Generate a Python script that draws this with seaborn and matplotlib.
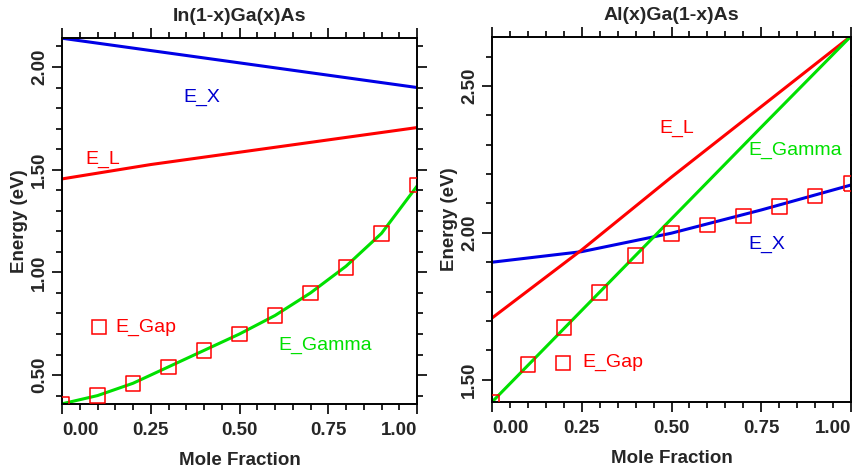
import numpy as np
import pandas as pd
import matplotlib
matplotlib.use("Agg")
import matplotlib.pyplot as plt
import seaborn as sns
from matplotlib.ticker import MultipleLocator

# ---------------- data ----------------
# In(1-x)Ga(x)As
ingaas_x_curve = [0.0, 0.1, 0.2, 0.3, 0.4, 0.5, 0.6, 0.7, 0.8, 0.9, 1.0]
ingaas_gamma = [0.36, 0.40, 0.46, 0.54, 0.62, 0.70, 0.79, 0.90, 1.03, 1.19, 1.42]
ingaas_x_band = [0.0, 0.25, 0.5, 0.75, 1.0]
ingaas_ex = [2.14, 2.08, 2.02, 1.96, 1.90]
ingaas_el = [1.455, 1.525, 1.585, 1.645, 1.705]
ingaas_x_gap = [0.0, 0.1, 0.2, 0.3, 0.4, 0.5, 0.6, 0.7, 0.8, 0.9, 1.0]
ingaas_gap = [0.36, 0.40, 0.46, 0.54, 0.62, 0.70, 0.79, 0.90, 1.025, 1.19, 1.425]

# Al(x)Ga(1-x)As
algaas_x_band = [0.0, 0.25, 0.5, 0.75, 1.0]
algaas_gamma = [1.424, 1.736, 2.048, 2.360, 2.67]
algaas_el = [1.71, 1.942, 2.19, 2.43, 2.67]
algaas_ex = [1.90, 1.936, 1.999, 2.078, 2.163]
algaas_x_gap = [0.0, 0.1, 0.2, 0.3, 0.4, 0.5, 0.6, 0.7, 0.8, 0.9, 1.0]
algaas_gap = [1.424, 1.551, 1.677, 1.796, 1.922, 1.997, 2.027, 2.058, 2.089, 2.126, 2.168]

x_ticks = [0.0, 0.25, 0.5, 0.75, 1.0]
x_tick_labels = ["0.00", "0.25", "0.50", "0.75", "1.00"]
left_y_ticks = [0.5, 1.0, 1.5, 2.0]
left_y_labels = ["0.50", "1.00", "1.50", "2.00"]
right_y_ticks = [1.5, 2.0, 2.5]
right_y_labels = ["1.50", "2.00", "2.50"]

RED = "#ff0000"
GREEN = "#00e000"
BLUE = "#0000e6"

sns.set_style("ticks")
plt.rcParams["font.family"] = ["Liberation Sans", "DejaVu Sans"]

fig = plt.figure(figsize=(8.53, 4.70), dpi=100)
axL = fig.add_axes([0.0727, 0.1404, 0.4162, 0.7787])
axR = fig.add_axes([0.5768, 0.1447, 0.4209, 0.7766])

LW = 2.2

def draw_line(ax, xs, ys, color):
    df = pd.DataFrame({"x": xs, "y": ys})
    sns.lineplot(data=df, x="x", y="y", ax=ax, color=color, lw=LW, sort=False)

def draw_squares(ax, xs, ys):
    df = pd.DataFrame({"x": xs, "y": ys})
    sns.scatterplot(data=df, x="x", y="y", ax=ax, marker="s", s=110,
                    facecolor="none", edgecolor=RED, linewidth=1.1, zorder=5)

# left panel
draw_line(axL, ingaas_x_band, ingaas_ex, BLUE)
draw_line(axL, ingaas_x_band, ingaas_el, RED)
draw_line(axL, ingaas_x_curve, ingaas_gamma, GREEN)
draw_squares(axL, ingaas_x_gap, ingaas_gap)

# right panel
draw_line(axR, algaas_x_band, algaas_ex, BLUE)
draw_line(axR, algaas_x_band, algaas_el, RED)
draw_line(axR, algaas_x_band, algaas_gamma, GREEN)
draw_squares(axR, algaas_x_gap, algaas_gap)

def style_axes(ax, title, ylim, yticks, ylabels):
    ax.set_xlim(0, 1)
    ax.set_ylim(*ylim)
    ax.set_title(title, fontsize=14, fontweight="bold", pad=12)
    ax.set_xlabel("Mole Fraction", fontsize=13.5, fontweight="bold", labelpad=9)
    ax.set_ylabel("Energy (eV)", fontsize=13.5, fontweight="bold", labelpad=2)
    ax.set_xticks(x_ticks)
    ax.set_xticklabels(x_tick_labels, fontsize=13.5, fontweight="bold")
    labs = ax.get_xticklabels()
    labs[0].set_ha("left")
    labs[-1].set_ha("right")
    ax.set_yticks(yticks)
    ax.set_yticklabels(ylabels, fontsize=13.5, fontweight="bold", rotation=90, va="center")
    ax.xaxis.set_minor_locator(MultipleLocator(0.05))
    ax.yaxis.set_minor_locator(MultipleLocator(0.1))
    ax.tick_params(which="both", direction="out", top=True, right=True,
                   color="black", width=1.2)
    ax.tick_params(which="major", length=7)
    ax.tick_params(axis="x", which="major", pad=6)
    ax.tick_params(axis="y", which="major", pad=3)
    ax.tick_params(which="minor", length=4)
    for s in ax.spines.values():
        s.set_visible(True)
        s.set_linewidth(1.4)
        s.set_color("black")

style_axes(axL, "In(1-x)Ga(x)As", (0.359, 2.141), left_y_ticks, left_y_labels)
style_axes(axR, "Al(x)Ga(1-x)As", (1.424, 2.667), right_y_ticks, right_y_labels)

TFS = 14
# left annotations
axL.text(0.394, 1.854, "E_X", color="#0000d0", fontsize=TFS, ha="center", va="center")
axL.text(0.115, 1.549, "E_L", color=RED, fontsize=TFS, ha="center", va="center")
axL.text(0.741, 0.646, "E_Gamma", color=GREEN, fontsize=TFS, ha="center", va="center")
axL.plot([0.104], [0.734], marker="s", ms=10, mfc="none", mec=RED, mew=1.1, ls="none")
axL.text(0.149, 0.734, "E_Gap", color=RED, fontsize=TFS, ha="left", va="center")

# right annotations
axR.text(0.515, 2.357, "E_L", color=RED, fontsize=TFS, ha="center", va="center")
axR.text(0.844, 2.282, "E_Gamma", color=GREEN, fontsize=TFS, ha="center", va="center")
axR.text(0.766, 1.959, "E_X", color="#0000d0", fontsize=TFS, ha="center", va="center")
axR.plot([0.198], [1.558], marker="s", ms=10, mfc="none", mec=RED, mew=1.1, ls="none")
axR.text(0.253, 1.558, "E_Gap", color=RED, fontsize=TFS, ha="left", va="center")

fig.savefig("out.png", dpi=100)
